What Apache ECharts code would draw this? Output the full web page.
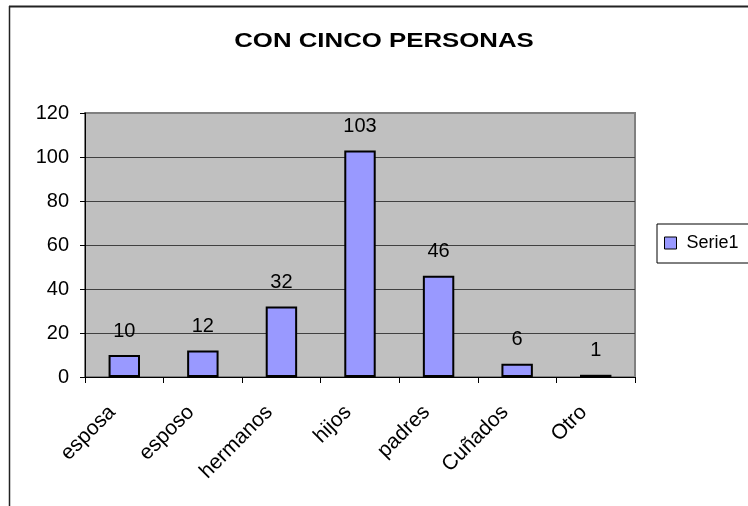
<!DOCTYPE html>
<html><head><meta charset="utf-8">
<script src="https://cdn.jsdelivr.net/npm/echarts@6/dist/echarts.min.js"></script>
<style>html,body{margin:0;padding:0;background:#fff;overflow:hidden}#c{width:748px;height:506px}</style>
</head><body><div id="c"></div>
<script>
const categories = ['esposa','esposo','hermanos','hijos','padres','Cuñados','Otro'];
const serie1 = [10,12,32,103,46,6,1];
const seriesName = 'Serie1';
const titleText = 'CON CINCO PERSONAS';

const chart = echarts.init(document.getElementById('c'), null, {renderer:'canvas'});
const F = 'Arial, "Liberation Sans", sans-serif';
chart.setOption({
  animation:false,
  backgroundColor:'#fff',
  legend:{
    data:[seriesName],left:657,top:224,
    padding:[10,30,11,7],
    borderColor:'#000',borderWidth:1,
    itemWidth:12,itemHeight:12,itemGap:0,
    icon:'rect',
    textStyle:{fontFamily:F,fontSize:18,color:'#000',padding:[0,0,0,5]},
    itemStyle:{borderColor:'#000',borderWidth:1}
  },
  graphic:[
    {type:'line',shape:{x1:9.5,y1:6,x2:9.5,y2:506},style:{stroke:'#222',lineWidth:1.5}},
    {type:'line',shape:{x1:9,y1:6.5,x2:748,y2:6.5},style:{stroke:'#222',lineWidth:2}},
    {type:'text',x:384,y:41,scaleX:1.29,
     style:{text:titleText,fill:'#000',font:'bold 20px ' + F,align:'center',verticalAlign:'middle'}}
  ],
  grid:{left:85,right:113,top:113,bottom:129,show:true,backgroundColor:'#c0c0c0',borderColor:'#808080',borderWidth:2},
  xAxis:{
    type:'category',data:categories,
    axisLine:{lineStyle:{color:'#000'}},
    axisTick:{show:true,alignWithLabel:false,length:6,lineStyle:{color:'#000'}},
    axisLabel:{rotate:45,fontFamily:F,fontSize:21,color:'#000',margin:20,padding:[0,17,0,0],interval:0}
  },
  yAxis:{
    type:'value',min:0,max:120,interval:20,
    axisLine:{show:true,lineStyle:{color:'#000'}},
    axisTick:{show:true,length:5,lineStyle:{color:'#000'}},
    splitLine:{showMaxLine:false,lineStyle:{color:'#404040',width:1}},
    axisLabel:{fontFamily:F,fontSize:20,color:'#000',margin:16}
  },
  series:[{
    name:seriesName,type:'bar',data:serie1,barCategoryGap:'60%',
    itemStyle:{color:'#9999ff',borderColor:'#000',borderWidth:2},
    label:{show:true,position:'top',distance:14,fontFamily:F,fontSize:20,color:'#000'}
  }]
});
</script></body></html>
